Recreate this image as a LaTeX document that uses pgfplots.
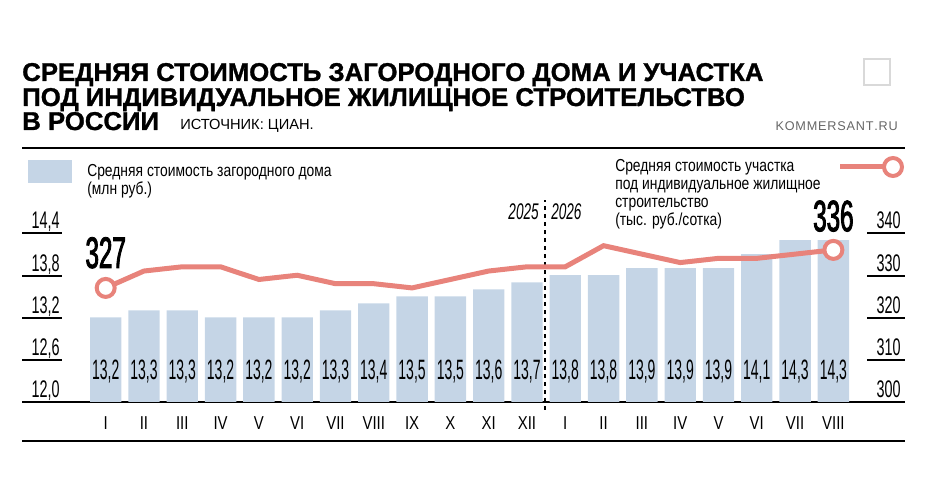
\documentclass[border=0pt]{standalone}
\usepackage{pgfplots}
\usepackage{pgfplotstable}
\pgfplotsset{compat=1.18}
\usepackage{fontspec}
\setmainfont{Liberation Sans}
\newfontfamily\narrow{Liberation Sans}[FakeStretch=0.8]
\newfontfamily\narrowc{Liberation Sans}[FakeStretch=0.6]
\newfontfamily\narrowd{Liberation Sans}[FakeStretch=0.5]
\newfontfamily\narrowb{Liberation Sans}[FakeStretch=0.55,FakeBold=2]
\newfontfamily\titlef{Liberation Sans Bold}[FakeBold=1.2]
\definecolor{barc}{HTML}{C5D5E6}
\definecolor{linec}{HTML}{E8837B}
\pgfplotstableread{
x bar lab line
0 13.2 {13,2} 327
1 13.3 {13,3} 331
2 13.3 {13,3} 332
3 13.2 {13,2} 332
4 13.2 {13,2} 329
5 13.2 {13,2} 330
6 13.3 {13,3} 328
7 13.4 {13,4} 328
8 13.5 {13,5} 327
9 13.5 {13,5} 329
10 13.6 {13,6} 331
11 13.7 {13,7} 332
12 13.8 {13,8} 332
13 13.8 {13,8} 337
14 13.9 {13,9} 335
15 13.9 {13,9} 333
16 13.9 {13,9} 334
17 14.1 {14,1} 334
18 14.3 {14,3} 335
19 14.3 {14,3} 336
}\data
\begin{document}
\begin{tikzpicture}[x=0.75pt,y=0.75pt]
\path (0,0) rectangle (926,485);
% title
\node[anchor=base west,inner sep=0,font=\titlef\fontsize{19.3}{19}\selectfont] at (22,404) {СРЕДНЯЯ СТОИМОСТЬ ЗАГОРОДНОГО ДОМА И УЧАСТКА};
\node[anchor=base west,inner sep=0,font=\titlef\fontsize{19.3}{19}\selectfont] at (22,379) {ПОД ИНДИВИДУАЛЬНОЕ ЖИЛИЩНОЕ СТРОИТЕЛЬСТВО};
\node[anchor=base west,inner sep=0,font=\titlef\fontsize{19.3}{19}\selectfont] at (22,355) {В РОССИИ};
\node[anchor=base west,inner sep=0,font=\fontsize{11}{11}\selectfont] at (180,355) {ИСТОЧНИК: ЦИАН.};
\node[anchor=base east,inner sep=0,text=black!60,font=\fontsize{9.5}{10}\selectfont] at (898,354) {K\kern.6pt O\kern.6pt M\kern.6pt M\kern.6pt E\kern.6pt R\kern.6pt S\kern.6pt A\kern.6pt N\kern.6pt T\kern.6pt .\kern.6pt R\kern.6pt U};
\draw[black!15,line width=1pt] (864,400) rectangle (890,426);
\draw[line width=1.5pt] (22,337) -- (905,337);
\draw[line width=1.5pt] (22,44) -- (905,44);
% legends
\fill[barc] (28,302) rectangle (72,325);
\node[anchor=base west,inner sep=0,font=\narrow\fontsize{13}{13}\selectfont] at (87,308) {Средняя стоимость загородного дома};
\node[anchor=base west,inner sep=0,font=\narrow\fontsize{13}{13}\selectfont] at (87,290) {(млн руб.)};
\foreach \t/\yy in {{Средняя стоимость участка}/313,{под индивидуальное жилищное}/295,{строительство}/277,{(тыс. руб./сотка)}/259}
  \node[anchor=base west,inner sep=0,font=\narrow\fontsize{13}{13}\selectfont] at (615,\yy) {\t};
\draw[linec,line width=3.75pt] (840,318) -- (884,318);
\draw[linec,line width=3pt,fill=white] (893,318) circle (9);
% tick lines
\foreach \yy in {83,125,167,209,252} {
  \draw[line width=1pt] (22,\yy) -- (62,\yy);
  \draw[line width=1pt] (867,\yy) -- (905,\yy);
}
\draw[line width=1.5pt] (22,83) -- (905,83);
\foreach \l/\yy in {{12,0}/83,{12,6}/125,{13,2}/167,{13,8}/209,{14,4}/252}
  \node[anchor=base east,inner sep=0,font=\narrowc\fontsize{18}{18}\selectfont] at (60,\yy+4) {\l};
\foreach \l/\yy in {300/83,310/125,320/167,330/209,340/252}
  \node[anchor=base east,inner sep=0,font=\narrowc\fontsize{18}{18}\selectfont] at (901,\yy+4) {\l};
% years
\draw[dashed,line width=0.8pt] (545,75) -- (545,285);
\node[anchor=base east,inner sep=0,font=\narrowc\itshape\fontsize{17}{17}\selectfont] at (539,265) {2025};
\node[anchor=base west,inner sep=0,font=\narrowc\itshape\fontsize{17}{17}\selectfont] at (551,265) {2026};
\begin{axis}[at={(64.9pt,62.25pt)},anchor=south west,scale only axis,
  width=574.5pt,height=126.75pt,xmin=-0.5,xmax=19.5,ymin=12,ymax=14.4,
  axis line style={draw=none},major tick length=0,ytick=\empty,
  xtick=data,xticklabels={I,II,III,IV,V,VI,VII,VIII,IX,X,XI,XII,I,II,III,IV,V,VI,VII,VIII},
  xticklabel style={font=\narrow\fontsize{14}{14}\selectfont,anchor=base,yshift=-21pt},
  clip=false]
\addplot[ybar,bar width=23.5pt,fill=barc,draw=none] table[x=x,y=bar]{\data};
\addplot[draw=none,nodes near coords,point meta=explicit symbolic,
  every node near coord/.style={anchor=center,font=\narrowd\fontsize{21}{21}\selectfont,inner sep=0}]
  table[x=x,y expr=12.43,meta=lab]{\data};
\end{axis}
\begin{axis}[at={(64.9pt,62.25pt)},anchor=south west,scale only axis,
  width=574.5pt,height=126.75pt,xmin=-0.5,xmax=19.5,ymin=300,ymax=340,
  axis lines=none,clip=false]
\addplot[linec,line width=3.75pt,mark=none] table[x=x,y=line]{\data};
\addplot[linec,line width=3pt,only marks,mark=*,mark size=6.75pt,mark options={fill=white}] coordinates {(0,327) (19,336)};
\node[anchor=base,font=\narrowb\fontsize{33}{33}\selectfont,inner sep=0] at (axis cs:0,327) [yshift=15pt] {327};
\node[anchor=base,font=\narrowb\fontsize{33}{33}\selectfont,inner sep=0] at (axis cs:19,336) [yshift=14pt] {336};
\end{axis}
\end{tikzpicture}
\end{document}
